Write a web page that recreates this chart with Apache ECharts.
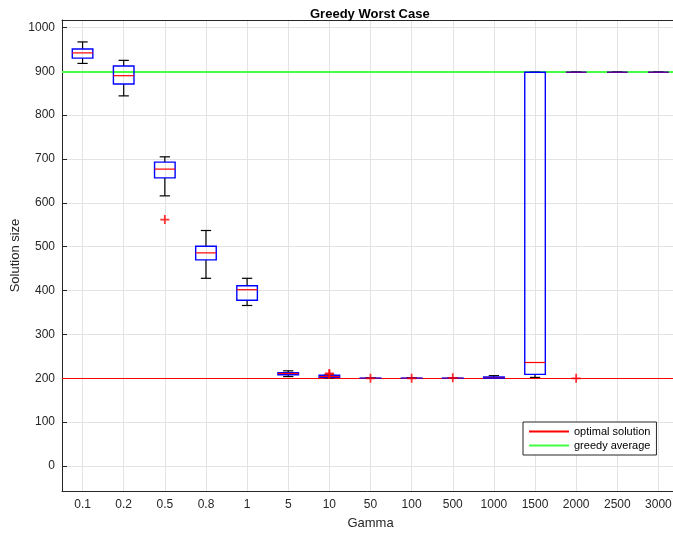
<!DOCTYPE html>
<html>
<head>
<meta charset="utf-8">
<script src="https://cdn.jsdelivr.net/npm/echarts@6/dist/echarts.min.js"></script>
<style>
html, body { margin: 0; padding: 0; background: #fff; }
#chart { width: 673px; height: 537px; }
</style>
</head>
<body>
<div id="chart"></div>
<script>
// gamma values on the x axis
var gammas = ['0.1', '0.2', '0.5', '0.8', '1', '5', '10', '50', '100', '500', '1000', '1500', '2000', '2500', '3000'];
// box plot stats per gamma
var whiskerLow  = [918, 844, 616, 428, 366, 204, 201, 200, 200, 200, 200, 202, 898, 898, 898];
var q1          = [930, 871, 657, 470, 378, 208, 202, 200, 200, 200, 200, 209, 898, 898, 898];
var medians     = [942, 890, 677, 486, 402, 211, 204, 200, 200, 200, 201, 236, 898, 898, 898];
var q3          = [951, 912, 693, 501, 411, 213, 207, 200.5, 200.5, 200.5, 203, 898, 898, 898, 898];
var whiskerHigh = [967, 925, 705, 537, 428, 217, 208, 201, 201, 201, 206, 898, 898, 898, 898];
// outliers as [gamma index, value]
var outliers = [[2, 562], [6, 211], [6, 209], [7, 200], [8, 200], [9, 201], [12, 200]];
var optimal = 200;
var greedyAvg = 899;

var font = '"Liberation Sans", Arial, sans-serif';
var boxData = gammas.map(function (g, i) {
  return [i, whiskerLow[i], q1[i], medians[i], q3[i], whiskerHigh[i]];
});

function renderBox(params, api) {
  var i = api.value(0);
  var lo = api.coord([i, api.value(1)]);
  var b1 = api.coord([i, api.value(2)]);
  var md = api.coord([i, api.value(3)]);
  var b3 = api.coord([i, api.value(4)]);
  var hi = api.coord([i, api.value(5)]);
  var bw = api.size([1, 0])[0];
  var half = bw * 0.25, cap = bw * 0.125;
  var x = md[0];
  var black = { stroke: '#000', lineWidth: 1.2 };
  var flat = Math.abs(b1[1] - b3[1]) < 2;
  return {
    type: 'group',
    children: [
      { type: 'line', shape: { x1: x, y1: lo[1], x2: x, y2: b1[1] }, style: black },
      { type: 'line', shape: { x1: x, y1: b3[1], x2: x, y2: hi[1] }, style: black },
      { type: 'line', shape: { x1: x - cap, y1: lo[1], x2: x + cap, y2: lo[1] }, style: black },
      { type: 'line', shape: { x1: x - cap, y1: hi[1], x2: x + cap, y2: hi[1] }, style: black },
      { type: 'rect', shape: { x: x - half, y: b3[1], width: half * 2, height: b1[1] - b3[1] },
        style: { stroke: '#0000ff', fill: 'none', lineWidth: 1.4 } },
      { type: 'line', shape: { x1: x - half, y1: md[1], x2: x + half, y2: md[1] },
        style: { stroke: '#ff0000', lineWidth: 1.2, opacity: flat ? 0.5 : 1 } }
    ]
  };
}

var chart = echarts.init(document.getElementById('chart'), null, { renderer: 'canvas' });
var option = {
  animation: false,
  backgroundColor: '#fff',
  textStyle: { fontFamily: font },
  title: {
    text: 'Greedy Worst Case',
    left: 305, top: 3,
    textStyle: { fontFamily: font, fontSize: 13, fontWeight: 'bold', color: '#000' }
  },
  legend: {
    orient: 'vertical',
    left: 523, top: 422,
    padding: [4, 6, 4, 5],
    itemGap: 3,
    itemWidth: 40,
    itemHeight: 12,
    borderColor: '#262626',
    borderWidth: 1,
    backgroundColor: '#fff',
    itemStyle: { opacity: 0 },
    textStyle: { fontFamily: font, fontSize: 11, color: '#000' },
    data: ['optimal solution', 'greedy average']
  },
  grid: { left: 62, right: -6, top: 20, bottom: 46, containLabel: false, outerBoundsMode: 'none' },
  xAxis: [{
    type: 'category',
    data: gammas,
    boundaryGap: true,
    name: 'Gamma',
    nameLocation: 'middle',
    nameGap: 26,
    nameTextStyle: { fontFamily: font, fontSize: 13, color: '#262626' },
    axisLine: { onZero: false, lineStyle: { color: '#262626', width: 1 } },
    axisTick: { inside: true, alignWithLabel: true, length: 5, lineStyle: { color: '#262626' } },
    axisLabel: { fontFamily: font, fontSize: 12, color: '#262626', margin: 8, interval: 0 },
    splitLine: { show: true, alignWithLabel: true, interval: 0, lineStyle: { color: '#e3e3e3', width: 1 } }
  }, {
    type: 'category',
    data: gammas,
    position: 'top',
    boundaryGap: true,
    axisLine: { onZero: false, lineStyle: { color: '#262626', width: 1 } },
    axisTick: { inside: true, alignWithLabel: true, length: 5, lineStyle: { color: '#262626' } },
    axisLabel: { show: false },
    splitLine: { show: false }
  }],
  yAxis: {
    type: 'value',
    min: -57,
    max: 1017,
    splitNumber: 10,
    name: 'Solution size',
    nameLocation: 'middle',
    nameGap: 40,
    nameMoveOverlap: false,
    nameTextStyle: { fontFamily: font, fontSize: 13, color: '#262626' },
    axisLine: { show: true, onZero: false, lineStyle: { color: '#262626', width: 1 } },
    axisTick: { show: true, inside: true, length: 5, lineStyle: { color: '#262626' } },
    axisLabel: {
      fontFamily: font, fontSize: 12, color: '#262626', margin: 7,
      showMinLabel: false, showMaxLabel: false,
      formatter: function (v) { return String(v); }
    },
    splitLine: { show: true, lineStyle: { color: '#e3e3e3', width: 1 } }
  },
  series: [{
    name: 'optimal solution',
    type: 'line',
    data: [],
    symbol: 'none',
    symbolSize: 0,
    showSymbol: false,
    lineStyle: { color: '#ff0000', width: 1 },
    itemStyle: { color: '#ff0000' },
    markLine: {
      silent: true, symbol: ['none', 'none'], label: { show: false },
      lineStyle: { color: '#ff0000', width: 1.2, type: 'solid' },
      data: [{ yAxis: optimal }]
    },
    z: 3
  }, {
    name: 'greedy average',
    type: 'line',
    data: [],
    symbol: 'none',
    symbolSize: 0,
    showSymbol: false,
    lineStyle: { color: '#44ff44', width: 1.5 },
    itemStyle: { color: '#44ff44' },
    markLine: {
      silent: true, symbol: ['none', 'none'], label: { show: false },
      lineStyle: { color: '#44ff44', width: 2, type: 'solid' },
      data: [{ yAxis: greedyAvg }]
    },
    z: 3
  }, {
    type: 'custom',
    renderItem: renderBox,
    data: boxData,
    encode: { x: 0, y: [1, 2, 3, 4, 5] },
    z: 5
  }, {
    type: 'scatter',
    data: outliers,
    symbol: 'path://M3.2,0 H4.8 V3.2 H8 V4.8 H4.8 V8 H3.2 V4.8 H0 V3.2 H3.2 Z',
    symbolSize: 9,
    itemStyle: { color: '#ff0000' },
    z: 6
  }]
};
chart.setOption(option);
</script>
</body>
</html>
